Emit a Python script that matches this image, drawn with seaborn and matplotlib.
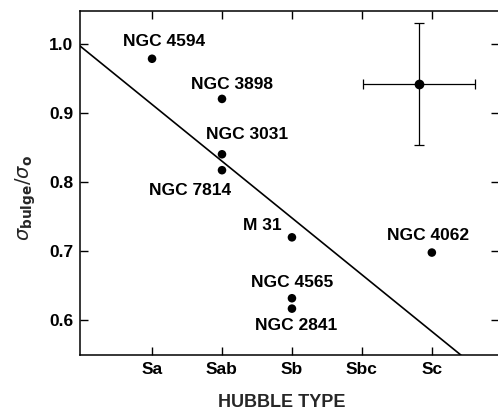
import matplotlib
matplotlib.use("Agg")
import matplotlib.pyplot as plt
import seaborn as sns
import numpy as np
import pandas as pd

# Hubble types on the x axis (numeric positions 1..5)
hubble_types = ["Sa", "Sab", "Sb", "Sbc", "Sc"]
type_pos = [1, 2, 3, 4, 5]

# Galaxies: name, Hubble-type position, sigma_bulge / sigma_o
galaxy_names = ["NGC 4594", "NGC 3898", "NGC 3031", "NGC 7814",
                "M 31", "NGC 4565", "NGC 2841", "NGC 4062"]
galaxy_type = [1, 2, 2, 2, 3, 3, 3, 5]
galaxy_ratio = [0.978, 0.920, 0.840, 0.817, 0.720, 0.632, 0.617, 0.698]

# Label offsets (pixels) for each galaxy name
label_dx = [12, 10, 25, -32, -30, 0, 4, -4]
label_dy = [17, 14, 20, -20, 12, 16, -17, 17]

# Typical error bar
err_type, err_ratio = 4.81, 0.942
err_dtype, err_dratio = 0.80, 0.088

# Linear fit: ratio = intercept + slope * type
fit_intercept = 0.994
fit_slope = -0.082

y_ticks = [0.6, 0.7, 0.8, 0.9, 1.0]

sns.set_theme(style="ticks")
plt.rcParams["font.family"] = ["Liberation Sans", "DejaVu Sans"]
plt.rcParams["font.weight"] = "normal"
plt.rcParams["mathtext.fontset"] = "dejavusans"

fig = plt.figure(figsize=(4.98, 4.11), dpi=100)
W, H = 498, 411
ax = fig.add_axes([80 / W, 56 / H, (499 - 80) / W, (355 - 11) / H])

df = pd.DataFrame({"type": galaxy_type, "ratio": galaxy_ratio, "name": galaxy_names})
sns.scatterplot(data=df, x="type", y="ratio", color="black", s=38,
                edgecolor="none", ax=ax, zorder=3)

# Fit line, drawn from the left edge to where it meets the bottom
x0 = -0.03
x1 = (0.55 - fit_intercept) / fit_slope
fit_x = np.array([x0, x1])
fit_df = pd.DataFrame({"type": fit_x, "ratio": fit_intercept + fit_slope * fit_x})
sns.lineplot(data=fit_df, x="type", y="ratio", color="black", lw=1.2, ax=ax)

# Representative error bar
ax.errorbar([err_type], [err_ratio], xerr=[err_dtype], yerr=[err_dratio],
            fmt="o", color="black", ms=6, elinewidth=0.9, capsize=3.5,
            capthick=0.9, zorder=3)

for name, xt, yr, dx, dy in zip(galaxy_names, galaxy_type, galaxy_ratio,
                                label_dx, label_dy):
    ax.annotate(name, (xt, yr), xytext=(dx, dy), textcoords="offset pixels",
                ha="center", va="center", fontsize=12.5, fontweight="bold",
                color="black")

ax.set_xlim(-0.03, 5.96)
ax.set_ylim(0.55, 1.047)
ax.set_xticks(type_pos)
ax.set_xticklabels(hubble_types)
ax.set_yticks(y_ticks)
ax.set_yticklabels([f"{v:.1f}" for v in y_ticks])

ax.tick_params(direction="in", length=6, width=1.0, top=True, right=True,
               labelsize=12.5, pad=5, colors="black")
for lab in ax.get_xticklabels() + ax.get_yticklabels():
    lab.set_fontweight("bold")

for sp in ax.spines.values():
    sp.set_linewidth(1.1)
    sp.set_color("black")

ax.set_xlabel("HUBBLE TYPE", fontsize=13, fontweight="bold")
ax.xaxis.set_label_coords(0.482, -0.113)
ax.set_ylabel(r"$\sigma_{\mathbf{bulge}}/\sigma_{\mathbf{o}}$", fontsize=14,
              fontweight="normal")
ax.yaxis.set_label_coords(-0.10, 0.456)

fig.savefig("out.png", dpi=100)
